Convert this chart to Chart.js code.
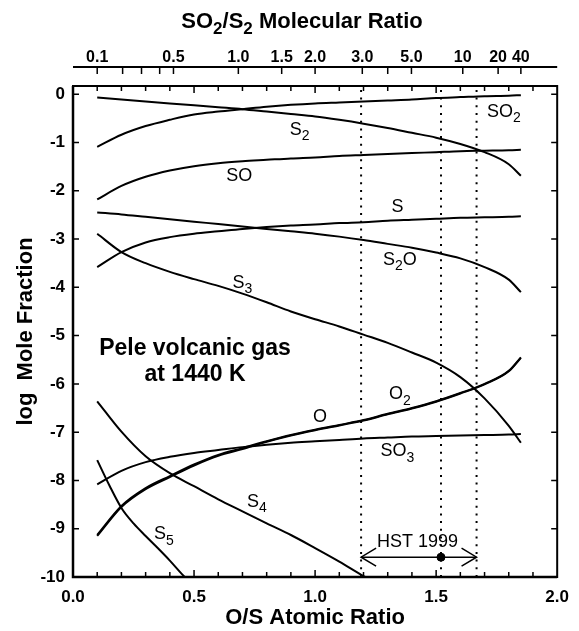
<!DOCTYPE html>
<html>
<head>
<meta charset="utf-8">
<script src="https://cdn.jsdelivr.net/npm/chart.js@4.4.1/dist/chart.umd.min.js"></script>
<style>
  body { margin: 0; background: #fff; }
  #wrap { width: 579px; height: 631px; }
</style>
</head>
<body>
<div id="wrap"><canvas id="chart" width="579" height="631"></canvas></div>
<script>
// O/S atomic ratio grid shared by most species
var xAll = [0.1, 0.2, 0.3, 0.4, 0.5, 0.6, 0.7, 0.8, 0.9, 1.0, 1.1, 1.2, 1.3, 1.4, 1.5, 1.6, 1.7, 1.8, 1.85];

// log mole fraction
var ySO2 = [-1.09, -0.84, -0.66, -0.53, -0.42, -0.36, -0.31, -0.26, -0.22, -0.19, -0.17, -0.15, -0.13, -0.11, -0.08, -0.06, -0.04, -0.03, -0.02];
var yS2  = [-0.07, -0.11, -0.15, -0.19, -0.23, -0.27, -0.31, -0.36, -0.41, -0.46, -0.53, -0.61, -0.70, -0.80, -0.90, -1.03, -1.20, -1.45, -1.69];
var ySO  = [-2.18, -1.90, -1.71, -1.58, -1.49, -1.43, -1.39, -1.36, -1.33, -1.31, -1.28, -1.26, -1.24, -1.22, -1.20, -1.18, -1.17, -1.16, -1.15];
var yS   = [-3.58, -3.27, -3.07, -2.96, -2.89, -2.84, -2.79, -2.75, -2.72, -2.70, -2.67, -2.65, -2.62, -2.60, -2.58, -2.56, -2.55, -2.54, -2.53];
var yS2O = [-2.45, -2.49, -2.54, -2.59, -2.64, -2.69, -2.74, -2.79, -2.84, -2.89, -2.95, -3.02, -3.10, -3.18, -3.28, -3.40, -3.58, -3.84, -4.10];
var yS3  = [-2.89, -3.27, -3.50, -3.68, -3.83, -3.97, -4.13, -4.31, -4.50, -4.66, -4.81, -4.98, -5.15, -5.35, -5.56, -5.86, -6.30, -6.87, -7.22];
var yO2  = [-9.15, -8.55, -8.18, -7.93, -7.69, -7.49, -7.35, -7.20, -7.07, -6.96, -6.86, -6.76, -6.63, -6.51, -6.37, -6.20, -6.01, -5.74, -5.46];
var yO   = [-9.13, -8.53, -8.16, -7.91, -7.67, -7.47, -7.33, -7.19, -7.06, -6.95, -6.85, -6.75, -6.62, -6.50, -6.36, -6.19, -6.00, -5.73, -5.45];
var ySO3 = [-8.08, -7.80, -7.62, -7.51, -7.43, -7.37, -7.31, -7.26, -7.22, -7.19, -7.16, -7.13, -7.11, -7.09, -7.08, -7.07, -7.06, -7.05, -7.04];

var xS4 = [0.1, 0.2, 0.3, 0.4, 0.5, 0.6, 0.7, 0.8, 0.9, 1.0, 1.1, 1.2, 1.25];
var yS4 = [-6.36, -6.99, -7.50, -7.85, -8.12, -8.39, -8.64, -8.89, -9.13, -9.40, -9.68, -9.98, -10.12];
var xS5 = [0.1, 0.15, 0.2, 0.25, 0.3, 0.35, 0.4, 0.45, 0.5];
var yS5 = [-7.58, -8.10, -8.57, -8.89, -9.15, -9.40, -9.66, -9.94, -10.2];

// left axis ticks
var yTicks = [-10, -9, -8, -7, -6, -5, -4, -3, -2, -1, 0];

// top axis: SO2/S2 ratio ticks and where they fall on the O/S axis
var topTickPos = [0.1, 0.205, 0.283, 0.358, 0.415, 0.683, 0.862, 1.0, 1.195, 1.30, 1.398, 1.61, 1.756, 1.85];
var topTickLabels = ['0.1', '', '', '', '0.5', '1.0', '1.5', '2.0', '3.0', '', '5.0', '10', '20', '40'];

// HST 1999 observation range
var hstLines = [1.19, 1.52, 1.667];
var hstY = -9.59;

// curve labels: [text, x, y]
var curveLabels = [
  ['SO_2', 1.78, -0.37], ['S_2', 0.936, -0.74], ['SO', 0.687, -1.69], ['S', 1.34, -2.33],
  ['S_2O', 1.35, -3.43], ['S_3', 0.70, -3.91], ['O_2', 1.35, -6.22], ['O', 1.02, -6.68],
  ['SO_3', 1.34, -7.40], ['S_4', 0.76, -8.45], ['S_5', 0.375, -9.12]
];

var FONT = '"Liberation Sans", Arial, Helvetica, sans-serif';

function pts(xs, ys) {
  return xs.map(function (x, i) { return {x: x, y: ys[i]}; });
}

function curve(label, xs, ys) {
  return {
    label: label, data: pts(xs, ys), borderColor: '#000', borderWidth: 2,
    pointRadius: 0, cubicInterpolationMode: 'monotone', fill: false
  };
}

var datasets = [
  curve('SO2', xAll, ySO2), curve('S2', xAll, yS2), curve('SO', xAll, ySO),
  curve('S', xAll, yS), curve('S2O', xAll, yS2O), curve('S3', xAll, yS3),
  curve('O2', xAll, yO2), curve('O', xAll, yO), curve('SO3', xAll, ySO3),
  curve('S4', xS4, yS4), curve('S5', xS5, yS5)
];

hstLines.forEach(function (x) {
  datasets.push({
    label: 'dots', data: [{x: x, y: -10}, {x: x, y: 0.17}], borderColor: '#000',
    borderWidth: 2, borderDash: [2, 5.7], pointRadius: 0
  });
});
datasets.push({
  label: 'HST', data: [{x: hstLines[0], y: hstY}, {x: hstLines[2], y: hstY}],
  borderColor: '#000', borderWidth: 1.5, pointRadius: 0
});
datasets.push({
  label: 'HSTdot', data: [{x: hstLines[1], y: hstY}], showLine: false,
  pointRadius: 4, pointBackgroundColor: '#000', pointBorderColor: '#000'
});

// text with "_2" style subscripts
function richText(ctx, str, cx, cy, size, weight) {
  var pieces = str.split(/(_\d)/).filter(function (p) { return p; });
  var main = weight + ' ' + size + 'px ' + FONT;
  var sub = weight + ' ' + Math.round(size * 0.78) + 'px ' + FONT;
  var w = 0;
  pieces.forEach(function (p) {
    ctx.font = p[0] === '_' ? sub : main;
    w += ctx.measureText(p[0] === '_' ? p.slice(1) : p).width;
  });
  var x = cx - w / 2;
  ctx.textAlign = 'left';
  ctx.textBaseline = 'middle';
  pieces.forEach(function (p) {
    if (p[0] === '_') {
      ctx.font = sub;
      ctx.fillText(p.slice(1), x, cy + size * 0.35);
      x += ctx.measureText(p.slice(1)).width;
    } else {
      ctx.font = main;
      ctx.fillText(p, x, cy);
      x += ctx.measureText(p).width;
    }
  });
}

var decor = {
  id: 'decor',
  afterDraw: function (chart) {
    var ctx = chart.ctx, xs = chart.scales.x, ys = chart.scales.y;
    var a = chart.chartArea;
    ctx.save();
    ctx.strokeStyle = '#000';
    ctx.fillStyle = '#000';

    // frame
    ctx.lineWidth = 2;
    ctx.strokeRect(a.left, a.top, a.right - a.left, a.bottom - a.top);
    ctx.lineWidth = 2.5;
    ctx.beginPath();
    ctx.moveTo(a.left, a.top); ctx.lineTo(a.left, a.bottom); ctx.lineTo(a.right, a.bottom);
    ctx.stroke();

    // inward ticks
    ctx.lineWidth = 1.5;
    ctx.beginPath();
    for (var i = 1; i < 20; i++) {
      var px = xs.getPixelForValue(i / 10);
      var len = (i % 5 === 0) ? 7 : 5;
      ctx.moveTo(px, a.bottom); ctx.lineTo(px, a.bottom - len);
      ctx.moveTo(px, a.top); ctx.lineTo(px, a.top + len);
    }
    yTicks.forEach(function (v) {
      var py = ys.getPixelForValue(v);
      ctx.moveTo(a.left, py); ctx.lineTo(a.left + 6, py);
      ctx.moveTo(a.right, py); ctx.lineTo(a.right - 6, py);
    });
    ctx.stroke();

    // top SO2/S2 axis
    var axY = 67;
    ctx.lineWidth = 2;
    ctx.beginPath();
    ctx.moveTo(a.left, axY); ctx.lineTo(a.right, axY);
    ctx.stroke();
    ctx.lineWidth = 1.5;
    ctx.beginPath();
    topTickPos.forEach(function (p) {
      var px = xs.getPixelForValue(p);
      ctx.moveTo(px, axY); ctx.lineTo(px, axY + 7);
    });
    ctx.stroke();
    ctx.font = 'bold 16px ' + FONT;
    ctx.textAlign = 'center';
    ctx.textBaseline = 'middle';
    topTickPos.forEach(function (p, k) {
      if (topTickLabels[k]) ctx.fillText(topTickLabels[k], xs.getPixelForValue(p), 58);
    });
    richText(ctx, 'SO_2/S_2 Molecular Ratio', 302, 22, 22, 'bold');

    // curve labels
    curveLabels.forEach(function (c) {
      richText(ctx, c[0], xs.getPixelForValue(c[1]), ys.getPixelForValue(c[2]), 18, 'normal');
    });

    // annotation
    richText(ctx, 'Pele volcanic gas', xs.getPixelForValue(0.504), ys.getPixelForValue(-5.27), 23, 'bold');
    richText(ctx, 'at 1440 K', xs.getPixelForValue(0.504), ys.getPixelForValue(-5.81), 23, 'bold');

    // HST arrow heads and label
    var hy = ys.getPixelForValue(hstY);
    var l = xs.getPixelForValue(hstLines[0]), r = xs.getPixelForValue(hstLines[2]);
    ctx.lineWidth = 1.5;
    ctx.beginPath();
    ctx.moveTo(l + 15, hy - 9); ctx.lineTo(l, hy); ctx.lineTo(l + 15, hy + 9);
    ctx.moveTo(r - 15, hy - 9); ctx.lineTo(r, hy); ctx.lineTo(r - 15, hy + 9);
    ctx.stroke();
    richText(ctx, 'HST 1999', xs.getPixelForValue(1.423), ys.getPixelForValue(-9.28), 18, 'normal');
    ctx.restore();
  }
};

var tickFont = {family: FONT, size: 17, weight: 'bold'};

var config = {
  type: 'line',
  data: {datasets: datasets},
  options: {
    responsive: false,
    animation: false,
    layout: {padding: {left: 0, right: 14, top: 86, bottom: 0}},
    plugins: {legend: {display: false}, tooltip: {enabled: false}},
    scales: {
      x: {
        type: 'linear', min: 0, max: 2,
        afterFit: function (s) { s.height = 54; },
        grid: {display: false, drawTicks: false},
        border: {display: false},
        ticks: {
          stepSize: 0.5, padding: 10, color: '#000', font: tickFont, maxRotation: 0, autoSkip: false,
          callback: function (v) { return v.toFixed(1); }
        },
        title: {
          display: true, text: 'O/S Atomic Ratio', color: '#000',
          font: {family: FONT, size: 22, weight: 'bold', lineHeight: 1.2}, padding: {top: 0, bottom: 0}
        }
      },
      y: {
        type: 'linear', min: -10, max: 0.17,
        afterFit: function (s) { s.width = 73; },
        afterBuildTicks: function (s) {
          s.ticks = yTicks.map(function (v) { return {value: v}; });
        },
        grid: {display: false, drawTicks: false},
        border: {display: false},
        ticks: {padding: 8, color: '#000', font: tickFont},
        title: {
          display: true, text: 'log  Mole Fraction', color: '#000',
          font: {family: FONT, size: 22, weight: 'bold', lineHeight: 1.2}, padding: {top: 13, bottom: 0}
        }
      }
    }
  },
  plugins: [decor]
};

var ctx = document.getElementById('chart').getContext('2d');
window.myChart = new Chart(ctx, config);
</script>
</body>
</html>
